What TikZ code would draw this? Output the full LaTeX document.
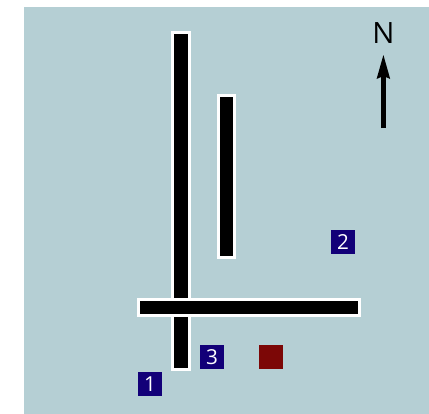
\documentclass[tikz,border=0pt]{standalone}
\usepackage{fontspec}
\setmainfont{Open Sans}
\definecolor{panelcol}{HTML}{B5CFD4}
\definecolor{navycol}{HTML}{120078}
\definecolor{redcol}{HTML}{7C0706}
\tikzset{
  road/.style={fill=black,draw=white,line width=2.25pt},
  marker/.style={minimum width=18pt,minimum height=18pt,inner sep=0pt,outer sep=0pt,anchor=center},
  numbered/.style={marker,fill=navycol,text=white,font=\fontsize{15.5pt}{15.5pt}\selectfont},
  plain/.style={marker,fill=redcol},
  pointer/.style={line width=3.9pt,draw=black}
}
\begin{document}
\begin{tikzpicture}[x=0.75pt,y=-0.75pt]
\useasboundingbox (0,0) rectangle (429,414);
\fill[panelcol] (24,7) rectangle (429,414);
% roads
\path[road] (172.8,32.5) rectangle (189.2,369.8);
\path[road] (218.2,95.2) rectangle (234.2,257);
\path[road] (138.5,299.5) rectangle (359.5,315.8);
% markers
\node[numbered] (m1) at (150,384) {1};
\node[numbered] (m2) at (343,242) {2};
\node[numbered] (m3) at (212,357) {3};
\node[plain] (m4) at (271,357) {};
% north arrow
\node[font=\fontsize{22pt}{22pt}\selectfont,text=black,inner sep=0pt] (north) at (383.4,33.5) {N};
\coordinate (tail) at (383.4,128);
\coordinate (shaftend) at (383.4,74);
\coordinate (tip) at (383.4,55);
\draw[pointer] (tail) -- (shaftend);
\fill[black] (tip) -- (390.2,79) -- (383.4,76) -- (376.6,79) -- cycle;
\end{tikzpicture}
\end{document}
